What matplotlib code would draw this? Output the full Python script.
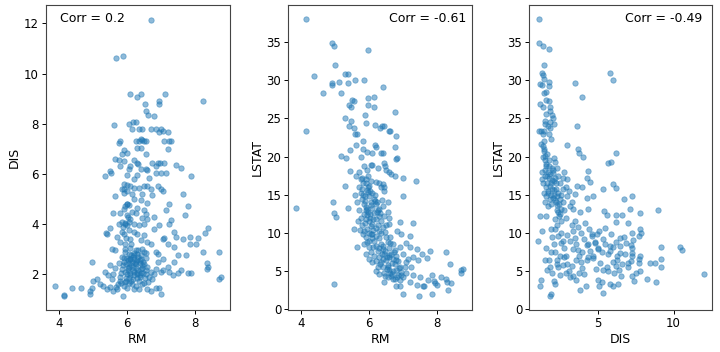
"""Boston-Daten: RM, DIS und LSTAT als drei Streudiagramme nebeneinander."""

import matplotlib

matplotlib.use("Agg")
import matplotlib.pyplot as plt

# --- Werte ------------------------------------------------------------------

# Panel 1: RM gegen DIS
rm_dis_x = [
    6.72, 5.67, 5.87, 6.10, 6.28, 6.42, 7.12, 6.95, 6.93, 8.25, 6.52, 6.55, 6.63, 6.80,
    5.62, 6.05, 6.18, 6.27, 6.15, 6.35, 6.45, 6.72, 6.85, 7.00, 7.05, 7.20, 6.95,
    5.80, 5.75, 6.25, 6.40, 6.45, 6.50, 6.35, 6.55, 7.10, 7.25, 7.30, 7.20, 6.40, 6.30,
    5.90, 6.00, 6.55, 5.85,
    5.65, 5.75, 5.90, 6.20, 6.30, 6.32, 6.75, 6.90, 6.97, 7.10, 6.85, 7.45, 7.60, 5.80,
    6.05, 6.10, 6.40, 6.55, 6.60, 6.85, 7.00, 7.15, 5.50, 5.52, 5.35, 7.90, 6.30, 6.00,
    6.20, 6.65,
    5.90, 6.00, 6.10, 6.20, 5.85, 6.35, 6.50, 6.60, 6.70, 6.90, 7.00, 7.05, 6.00, 5.90,
    6.15, 6.45, 5.65, 6.75, 7.65, 6.20, 6.40, 7.25, 7.80, 6.60, 7.15,
    6.00, 6.05, 5.95, 6.30, 6.15, 6.25, 5.80, 5.60, 6.50, 6.55, 6.60, 6.80, 6.45, 6.00,
    6.10, 5.75, 5.85, 5.95, 6.00, 6.20, 6.35, 6.50, 7.25, 7.30, 7.70, 6.95, 6.80, 5.50,
    5.38, 5.40, 7.40, 7.45, 7.85, 8.10, 8.30, 8.38, 7.65, 7.05, 7.10, 6.20, 6.05, 6.30,
    6.50, 5.90, 5.70, 6.10, 6.40, 6.60, 5.80, 5.95, 6.70, 7.20, 7.40, 7.85, 8.05, 5.55,
    5.65, 5.95, 6.10, 6.25, 6.45, 6.85, 7.50, 7.75, 8.25, 8.70, 6.55, 6.90,
    3.86, 4.13, 4.15, 4.37, 4.63, 4.90, 4.92, 4.97, 5.00, 4.98, 5.10, 5.20, 5.30, 5.35,
    5.40, 5.50, 5.60, 5.87, 5.70, 6.20, 6.35, 6.60, 6.70, 6.85, 7.00, 6.95, 7.00, 7.05,
    7.25, 7.35, 7.50, 7.60, 7.80, 7.90, 8.35, 8.40, 8.35, 8.70, 8.78, 7.20, 7.40, 7.05,
    6.90,
    5.72, 5.78, 5.80, 5.82, 5.85, 5.88, 5.90, 5.92, 5.95, 5.98, 6.00, 6.02, 6.05, 6.07,
    6.10, 6.12, 6.15, 6.17, 6.20, 6.22, 6.25, 6.27, 6.30, 6.32, 6.35, 6.37, 6.40, 6.42,
    6.45, 6.47, 6.50, 6.52, 6.55, 6.57, 6.60, 6.65, 6.70, 6.75, 6.80, 6.85, 5.60, 5.65,
    5.55, 5.50, 5.45, 5.95, 6.05, 6.20, 6.40, 6.55, 6.15, 5.98, 6.08, 6.18, 6.28, 6.12,
    6.25, 5.90, 6.00, 6.45, 6.62, 5.75, 5.85, 6.33, 6.50, 6.02, 6.22, 6.38, 5.82, 6.05,
    6.30, 5.68,
    6.03, 6.13, 6.23, 6.33, 6.43, 6.08, 6.18, 6.28, 6.38, 5.93, 6.00, 6.10, 6.20, 6.30,
    6.40, 6.50, 5.97, 6.07, 6.17, 6.27, 6.37, 6.47, 5.88, 5.95, 6.02, 5.92, 6.00, 5.85,
    5.97, 6.05, 6.12, 5.90,
]
rm_dis_y = [
    12.13, 10.60, 10.70, 9.20, 9.05, 9.20, 9.20, 8.90, 8.80, 8.90, 8.80, 8.50, 8.35, 8.30,
    7.95, 8.00, 8.05, 8.05, 7.80, 7.80, 7.80, 7.80, 7.80, 7.80, 7.70, 7.65, 7.65,
    7.30, 7.25, 7.30, 7.40, 7.35, 7.30, 7.30, 7.30, 7.30, 7.30, 7.30, 7.00, 7.05, 7.05,
    6.95, 6.85, 6.80, 6.80,
    6.60, 6.55, 6.50, 6.55, 6.45, 6.40, 6.45, 6.45, 6.45, 6.45, 6.30, 6.35, 6.25, 6.30,
    6.20, 6.30, 6.20, 6.20, 6.15, 6.05, 6.05, 6.05, 6.10, 6.05, 5.90, 5.90, 5.95, 5.95,
    5.80, 5.85,
    5.60, 5.55, 5.50, 5.45, 5.40, 5.45, 5.50, 5.50, 5.40, 5.50, 5.40, 5.30, 5.30, 5.25,
    5.20, 5.20, 5.10, 5.15, 5.20, 5.00, 4.95, 4.80, 4.70, 4.85, 4.55,
    4.80, 4.75, 4.70, 4.65, 4.50, 4.45, 4.45, 4.45, 4.55, 4.40, 4.20, 4.30, 4.25, 4.35,
    4.20, 4.00, 4.10, 4.05, 3.95, 4.00, 3.95, 4.00, 4.00, 4.15, 4.35, 3.95, 3.80, 3.85,
    3.65, 3.60, 3.70, 3.50, 3.50, 3.45, 3.65, 3.85, 3.40, 3.40, 3.45, 3.70, 3.75, 3.60,
    3.55, 3.60, 3.50, 3.40, 3.35, 3.30, 3.30, 3.20, 3.20, 3.20, 3.10, 3.20, 3.20, 3.00,
    2.95, 3.00, 3.05, 2.95, 3.00, 2.90, 2.75, 2.75, 2.90, 2.90, 2.85, 2.80,
    1.52, 1.15, 1.17, 1.45, 1.47, 1.20, 1.35, 1.45, 1.75, 2.50, 1.80, 1.60, 1.55, 2.10,
    1.40, 1.50, 1.35, 1.13, 1.40, 1.40, 1.40, 1.40, 1.35, 1.45, 1.20, 1.45, 2.10, 2.15,
    2.10, 1.95, 2.05, 2.15, 2.05, 2.05, 2.20, 2.30, 2.45, 1.80, 1.90, 2.30, 2.50, 2.60,
    2.50,
    1.60, 1.75, 1.90, 2.05, 2.20, 2.35, 2.50, 2.65, 1.70, 1.85, 2.00, 2.15, 2.30, 2.45,
    2.60, 2.75, 1.60, 1.80, 1.95, 2.10, 2.25, 2.40, 2.55, 2.70, 1.75, 1.90, 2.05, 2.20,
    2.35, 2.50, 1.65, 1.85, 2.00, 2.15, 2.30, 1.90, 2.10, 1.80, 2.00, 2.20, 2.00, 2.25,
    1.80, 2.35, 1.95, 2.90, 2.80, 2.85, 2.75, 2.65, 2.50, 2.40, 2.05, 2.30, 2.00, 1.75,
    1.55, 1.55, 1.45, 1.60, 1.70, 2.45, 2.70, 2.95, 2.90, 2.55, 2.62, 2.45, 1.65, 1.65,
    1.85, 1.50,
    2.25, 2.35, 2.45, 2.15, 2.25, 2.60, 2.70, 2.80, 2.55, 2.10, 2.65, 1.95, 2.75, 2.05,
    2.60, 2.40, 1.75, 1.85, 2.15, 2.50, 1.95, 2.05, 3.90, 4.00, 4.30, 4.60, 4.80, 3.70,
    3.45, 4.10, 3.20, 5.40,
]

# Panel 2: RM gegen LSTAT
rm_lstat_x = [
    4.14, 4.90, 4.98, 5.96, 4.37, 4.99, 4.90, 4.92, 5.10, 5.28, 5.37, 5.18, 4.65, 5.37,
    5.60, 5.85, 6.40, 5.50, 5.57, 5.97, 6.14, 5.98, 5.40, 5.47, 6.15, 6.76, 5.30, 5.48,
    5.88, 5.90, 6.18, 6.37, 6.44, 5.40, 5.55, 5.60, 5.65, 6.33, 6.60, 6.62, 6.80, 4.13,
    5.62, 5.83, 6.18, 6.20, 6.76, 5.45, 5.83, 5.95, 6.10, 6.35, 6.40, 5.17, 5.33, 5.75,
    6.80, 6.82, 6.43, 6.48, 5.85, 6.05, 6.10, 5.95, 6.25, 5.45, 5.70, 6.60, 6.50, 6.65,
    6.75, 7.00, 7.38, 5.28, 5.62, 5.75, 5.82, 6.20, 6.30, 6.40, 6.45,
    3.86, 4.95, 4.97, 5.03, 5.38, 5.55, 5.65, 4.97, 7.00, 6.60, 6.90, 7.30, 7.20, 6.95,
    6.82, 7.10, 7.22, 7.40, 7.55, 7.80, 8.28, 8.38, 7.70, 7.45,
    7.00, 7.47, 7.85, 8.33, 7.42, 7.60, 7.62, 7.75, 7.85, 7.90, 8.00, 8.12, 8.28, 8.30,
    8.40, 8.72, 8.78, 8.70, 7.95, 6.90, 7.20, 6.80, 6.45, 7.30, 7.50, 7.25, 7.10, 7.30,
    6.95, 6.70,
    5.70, 5.75, 5.80, 5.85, 5.90, 5.95, 6.00, 6.05, 5.78, 5.82, 5.88, 5.92, 5.98, 6.02,
    6.08, 6.12, 5.65, 5.70, 5.75, 5.80, 5.85, 5.60, 5.68, 5.72, 6.10, 6.15, 6.20, 6.25,
    6.30, 6.35, 6.40, 6.18, 6.22, 6.28, 6.33, 6.38, 6.42, 6.45, 6.50, 6.05, 6.00, 5.95,
    5.90, 6.00, 6.05, 6.10, 6.15, 6.20, 6.25, 6.30, 5.90, 5.95, 5.85, 6.55, 6.55, 6.60,
    6.45, 6.35, 5.98, 5.92, 5.80,
    5.90, 5.95, 6.00, 6.05, 6.10, 6.15, 6.20, 6.25, 6.30, 6.35, 6.40, 6.45, 6.15, 6.20,
    6.25, 6.30, 6.35, 6.40, 6.45, 6.50, 6.55, 6.60, 6.65, 6.50, 6.55, 6.60, 6.65, 6.70,
    6.75, 6.80, 6.85, 6.90, 6.70, 6.75, 6.80, 6.85, 6.90, 6.95, 7.00, 6.00, 6.10, 6.20,
    6.30, 6.55, 6.75, 7.05, 7.10, 7.15, 7.00, 6.90, 6.35, 6.05, 5.85, 6.12, 6.28, 6.42,
    6.58, 6.62, 6.48, 6.20, 6.00, 5.92,
    5.87, 5.93, 5.97, 6.03, 6.07, 6.13, 6.17, 5.83, 5.89, 6.01, 6.09, 6.19, 6.23, 5.96,
    6.04, 6.42, 6.48, 6.52, 6.58, 6.62, 6.68, 6.72, 6.78, 6.82, 6.88, 6.47, 6.53, 6.63,
    6.73, 6.38, 6.33, 6.57, 6.67,
]
rm_lstat_y = [
    38.0, 34.8, 34.5, 34.0, 30.6, 32.0, 29.4, 29.6, 29.7, 30.8, 30.8, 28.3, 28.3, 29.6,
    30.0, 30.0, 29.1, 27.4, 27.3, 27.7, 27.8, 26.8, 26.8, 26.5, 26.5, 25.8, 25.0, 24.6,
    25.4, 24.4, 24.1, 24.0, 24.0, 24.0, 23.7, 23.0, 22.9, 23.7, 23.3, 23.3, 22.7, 23.3,
    21.5, 22.1, 21.5, 21.3, 21.2, 20.8, 21.0, 20.6, 20.4, 20.5, 20.4, 20.1, 19.8, 19.9,
    19.7, 19.8, 19.2, 18.8, 18.8, 18.9, 18.9, 18.3, 18.5, 18.1, 18.0, 18.0, 18.2, 17.7,
    17.5, 17.2, 16.8, 16.2, 17.4, 17.0, 16.6, 16.7, 16.5, 16.4, 16.0,
    13.3, 14.0, 12.6, 12.1, 13.3, 10.5, 8.1, 3.3, 14.8, 12.0, 11.4, 11.3, 9.6, 9.8,
    10.3, 8.7, 8.2, 7.9, 7.3, 7.6, 7.5, 6.0, 6.7, 6.5,
    2.0, 1.8, 2.0, 2.5, 3.2, 3.1, 3.0, 3.9, 4.5, 3.7, 3.2, 4.2, 4.0, 3.6,
    3.4, 5.1, 5.3, 4.7, 3.5, 3.0, 3.6, 3.0, 3.6, 4.5, 4.2, 5.5, 6.2, 6.8,
    4.5, 4.0,
    16.0, 15.2, 14.5, 13.8, 13.0, 12.3, 11.6, 10.9, 15.8, 15.0, 14.2, 13.4, 12.7, 12.0,
    11.2, 10.4, 14.0, 13.0, 12.0, 11.0, 10.2, 15.0, 11.5, 10.4, 15.2, 14.5, 13.8, 13.0,
    12.2, 11.5, 10.8, 15.0, 14.0, 13.2, 12.6, 14.3, 13.5, 12.2, 11.0, 16.8, 16.2, 15.6,
    16.5, 14.8, 14.0, 13.3, 12.6, 11.8, 11.0, 10.3, 11.8, 10.5, 12.5, 14.0, 12.8, 11.2,
    15.5, 16.0, 17.5, 17.0, 17.2,
    9.5, 8.8, 8.2, 7.5, 9.8, 9.0, 8.3, 7.6, 6.9, 6.2, 5.5, 4.8, 7.0, 6.3,
    5.6, 9.3, 8.6, 7.9, 7.2, 6.5, 5.8, 5.1, 4.4, 9.5, 8.8, 8.0, 7.3, 6.6,
    5.9, 5.2, 4.5, 3.8, 8.5, 7.8, 7.0, 6.3, 5.6, 4.9, 4.2, 9.0, 6.2, 5.0,
    4.6, 4.2, 4.0, 5.5, 4.8, 6.6, 7.3, 8.2, 10.0, 9.9, 8.5, 8.1, 8.0, 6.6,
    6.9, 9.5, 10.1, 9.6, 6.6, 7.2,
    14.8, 13.2, 15.3, 12.5, 13.6, 11.8, 14.2, 9.8, 11.3, 10.0, 9.3, 10.6, 12.7, 16.0,
    15.5, 8.3, 7.6, 5.3, 7.1, 4.8, 6.1, 5.0, 6.5, 4.2, 5.4, 4.3, 6.9, 8.7,
    7.5, 7.3, 5.9, 5.5, 4.6,
]

# Panel 3: DIS gegen LSTAT
dis_lstat_x = [
    1.12, 1.16, 1.40, 1.81, 1.48, 1.33, 1.40, 1.44, 1.81, 1.77, 1.33, 1.22,
    5.80, 6.03, 3.54, 3.95,
    1.44, 1.57, 1.62, 1.77, 1.22, 1.37, 1.88, 1.83, 1.99, 2.05, 1.50, 1.88, 2.14, 3.62,
    1.11, 1.29, 1.44, 1.88, 1.77, 1.92,
    1.27, 1.40, 3.01, 3.69, 3.76, 4.06, 6.24, 1.44, 1.66, 1.55, 5.66, 5.90,
    1.18, 1.33, 1.57, 1.09, 1.29, 1.18, 1.94, 1.88,
    4.28, 4.35, 4.50, 3.62, 3.95, 4.67, 3.52, 4.28, 5.37, 6.03, 6.24, 6.75, 7.27, 5.41,
    5.59, 6.24, 6.62, 7.15, 7.80, 9.00, 6.24, 7.00, 4.39, 3.84, 7.77, 7.88, 7.73, 7.29,
    7.34, 6.75, 7.23, 7.29, 7.29, 7.25, 7.20, 7.80, 7.75, 7.71, 8.43, 8.76, 9.15, 9.15,
    9.15, 10.40, 10.57, 12.03, 8.27, 8.82, 7.29, 7.38, 7.77, 7.55, 7.00, 6.57, 6.35, 6.03,
    5.80, 6.24, 6.29, 5.81, 5.37, 5.11, 5.48, 4.93, 4.61, 4.83, 4.39, 4.72, 4.35, 5.15,
    5.37, 5.70, 5.04, 5.26, 5.11, 5.33, 4.24, 3.84, 5.04, 5.70, 5.98, 6.46, 6.90, 6.79,
    7.00,
    1.50, 1.60, 1.70, 1.80, 1.90, 2.00, 2.10, 2.20, 2.30, 2.40, 1.55, 1.65, 1.75, 1.85,
    1.95, 2.05, 2.15, 2.25, 2.35, 2.45, 2.55, 2.60, 2.70, 2.80, 2.90, 2.50, 2.40, 2.30,
    2.20, 2.10, 1.45, 1.60, 1.40, 1.50, 1.70, 1.80, 2.00, 2.70, 2.80, 2.90, 3.00, 3.20,
    3.10, 3.30, 3.40, 2.95, 1.35, 2.60, 2.20, 2.35,
    1.90, 2.00, 2.10, 2.20, 2.30, 2.40, 2.50, 2.60, 2.70, 2.80, 2.90, 3.00, 3.10, 3.20,
    3.30, 3.40, 3.50, 3.60, 3.70, 3.80, 3.90, 4.00, 4.10, 3.50, 3.70, 3.90, 4.10, 4.30,
    4.50, 4.20, 4.40, 4.60, 4.80, 5.00, 2.20, 2.40, 2.60, 2.80, 3.00, 3.20, 3.40, 3.60,
    3.30, 2.70, 2.50, 1.90, 1.85, 1.80, 2.00, 2.10, 2.20, 2.35, 2.90, 3.40, 3.60, 3.80,
    4.30, 4.00, 4.70, 4.90, 5.30, 5.50, 5.80, 6.00, 6.30, 5.60, 6.10, 6.40, 6.60, 6.50,
    6.20, 5.90, 6.50, 1.60, 1.65, 1.55,
    1.35, 1.42, 1.48, 1.53, 1.58, 1.63, 1.68, 1.73, 1.78, 1.83, 1.88, 1.93, 1.98, 2.03,
    2.08, 2.13, 2.18, 2.23, 2.28, 2.33, 2.38, 2.43, 1.38, 1.46, 1.52, 1.60, 1.72, 2.50,
    2.60, 2.75,
]
dis_lstat_y = [
    38.0, 34.8, 34.5, 34.1, 32.0, 30.9, 30.7, 30.1, 29.8, 29.2, 29.3, 29.5,
    30.9, 30.0, 29.6, 27.8,
    28.3, 28.4, 27.4, 27.3, 26.9, 26.5, 26.5, 25.9, 25.5, 25.0, 24.7, 24.5, 24.2, 24.0,
    23.4, 23.4, 23.4, 23.7, 22.9, 22.3,
    21.7, 21.4, 21.5, 21.0, 20.4, 20.0, 20.5, 20.7, 20.3, 20.1, 19.2, 19.3,
    12.2, 10.3, 12.2, 9.0, 3.8, 3.1, 2.0, 1.8,
    17.2, 18.1, 16.7, 16.1, 16.0, 14.8, 15.1, 14.6, 15.7, 16.4, 15.9, 14.5, 14.8, 12.9,
    12.4, 12.4, 12.4, 13.2, 12.6, 13.0, 11.4, 11.3, 13.1, 12.7, 10.5, 10.0, 9.6, 10.0,
    9.1, 9.5, 8.4, 8.0, 7.4, 7.0, 6.3, 7.0, 6.6, 6.1, 6.1, 6.1, 5.5, 6.6,
    8.1, 8.1, 7.8, 4.6, 4.0, 3.6, 4.3, 3.7, 5.0, 4.8, 5.5, 4.4, 3.3, 3.1,
    3.3, 5.7, 7.0, 8.3, 9.2, 10.2, 10.6, 9.8, 9.8, 8.7, 8.5, 7.0, 6.8, 6.1,
    5.2, 5.0, 3.9, 3.6, 3.1, 2.1, 3.1, 2.5, 7.9, 7.2, 8.1, 8.3, 8.7, 7.2,
    6.1,
    19.5, 18.8, 18.0, 17.2, 16.5, 15.8, 15.0, 14.3, 13.6, 12.8, 17.5, 16.5, 15.5, 14.5,
    13.8, 17.8, 16.8, 15.8, 14.8, 13.8, 12.5, 15.0, 14.0, 13.0, 12.0, 16.5, 17.5, 18.5,
    19.3, 19.8, 15.2, 14.8, 20.0, 14.0, 13.5, 19.5, 18.5, 17.2, 18.0, 16.0, 14.8, 13.5,
    15.5, 14.0, 13.2, 17.0, 17.0, 11.5, 11.8, 11.0,
    10.5, 9.5, 8.5, 7.5, 6.5, 5.5, 4.5, 10.0, 9.0, 8.0, 7.0, 6.0, 5.0, 4.2,
    11.0, 10.2, 9.4, 8.6, 7.8, 7.0, 6.2, 5.4, 4.6, 11.5, 10.8, 10.0, 9.2, 8.4,
    7.6, 11.3, 10.5, 9.6, 8.8, 8.0, 10.5, 9.6, 8.7, 6.8, 9.7, 8.9, 7.9, 6.5,
    5.7, 5.8, 7.0, 7.5, 5.5, 6.5, 4.8, 3.7, 3.3, 5.9, 4.8, 4.3, 3.9, 4.8,
    6.5, 7.5, 6.7, 5.3, 7.5, 8.5, 7.6, 6.2, 6.5, 5.6, 4.8, 5.2, 6.0, 7.4,
    8.8, 9.8, 9.3, 8.0, 5.2, 6.5,
    18.0, 16.5, 21.0, 18.3, 16.0, 19.0, 17.5, 15.2, 18.8, 16.2, 17.7, 15.0, 16.9, 14.6,
    18.2, 15.6, 17.2, 14.0, 16.5, 13.0, 15.2, 12.2, 23.0, 22.0, 24.3, 25.6, 24.0, 14.5,
    13.2, 15.8,
]

korrelationen = ["Corr = 0.2", "Corr = -0.61", "Corr = -0.49"]

# --- Zeichnen ---------------------------------------------------------------

BLAU = "#1f77b4"

fig = plt.figure(figsize=(7.2, 3.52), dpi=100)
# Achsenpositionen in Bildbruchteilen (links, unten, Breite, Höhe)
positionen = [
    (0.0635, 0.119, 0.256, 0.866),
    (0.4004, 0.119, 0.255, 0.866),
    (0.7352, 0.119, 0.254, 0.866),
]
panels = [
    (rm_dis_x, rm_dis_y, "RM", "DIS", (3.6, 9.04), (0.57, 12.72)),
    (rm_lstat_x, rm_lstat_y, "RM", "LSTAT", (3.62, 9.03), (-0.1, 39.8)),
    (dis_lstat_x, dis_lstat_y, "DIS", "LSTAT", (0.5, 12.55), (-0.1, 39.8)),
]
text_pos = [(0.077, "left"), (0.969, "right"), (0.945, "right")]

for pos, (xs, ys, xl, yl, xlim, ylim), txt, (tx, ha) in zip(
        positionen, panels, korrelationen, text_pos):
    ax = fig.add_axes(pos)
    ax.scatter(xs, ys, s=15, color=BLAU, alpha=0.5, linewidths=0.6)
    ax.set_xlim(*xlim)
    ax.set_ylim(*ylim)
    ax.set_xlabel(xl, fontsize=9, labelpad=2)
    ax.set_ylabel(yl, fontsize=9, labelpad=2)
    ax.tick_params(labelsize=8.5, length=3, width=0.7, pad=2)
    for sp in ax.spines.values():
        sp.set_linewidth(0.8)
        sp.set_color("#444444")
    ax.text(tx, 0.955, txt, transform=ax.transAxes, ha=ha, va="center", fontsize=9)

ax_list = fig.axes
ax_list[0].set_yticks([2, 4, 6, 8, 10, 12])
ax_list[0].set_xticks([4, 6, 8])
ax_list[1].set_xticks([4, 6, 8])
ax_list[2].set_xticks([5, 10])

fig.savefig("out.png", dpi=100)
plt.close(fig)
